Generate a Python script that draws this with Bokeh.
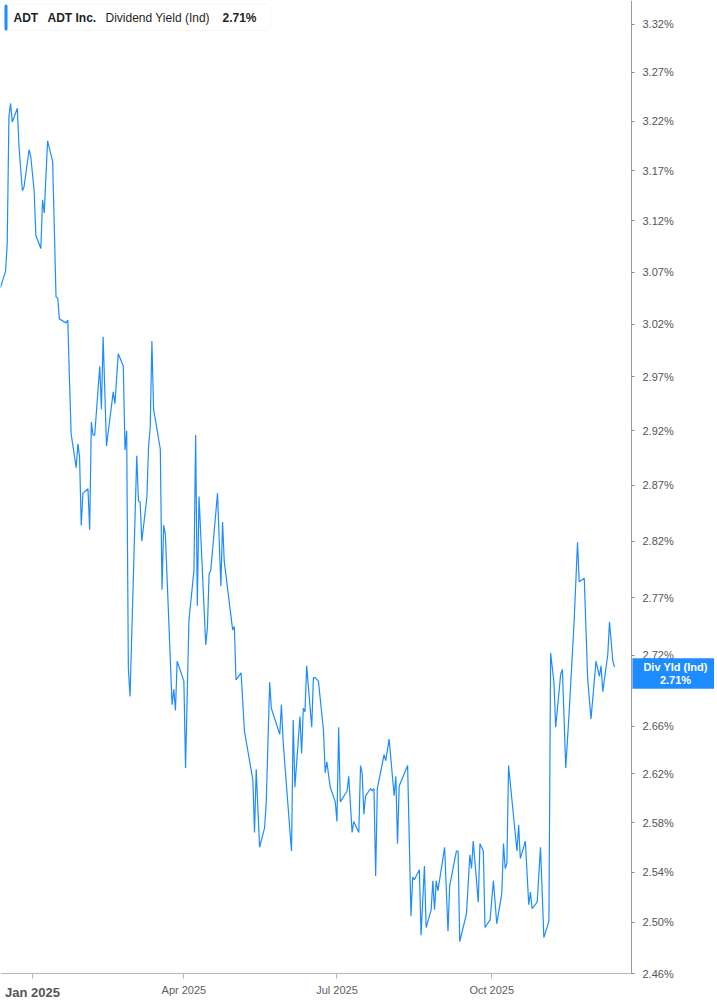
import math
import pandas as pd
from bokeh.plotting import figure
from bokeh.models import (Range1d, FixedTicker, PrintfTickFormatter, DatetimeTickFormatter,
                          Label, BoxAnnotation)
from bokeh.embed import file_html
from bokeh.resources import INLINE

# ---------------- data ----------------
symbol = "ADT"
company = "ADT Inc."
metric = "Dividend Yield (Ind)"
tag_title = "Div Yld (Ind)"
last_value = 2.71

dates = [
    "2024-12-13", "2024-12-16", "2024-12-17", "2024-12-18", "2024-12-19", "2024-12-20",
    "2024-12-23", "2024-12-24", "2024-12-26", "2024-12-27", "2024-12-30", "2024-12-31",
    "2025-01-02", "2025-01-03", "2025-01-06", "2025-01-07", "2025-01-08", "2025-01-10",
    "2025-01-13", "2025-01-15", "2025-01-16", "2025-01-17", "2025-01-21", "2025-01-22",
    "2025-01-23", "2025-01-24", "2025-01-27", "2025-01-28", "2025-01-29", "2025-01-30",
    "2025-01-31",
    "2025-02-03", "2025-02-04", "2025-02-05", "2025-02-06", "2025-02-07", "2025-02-10",
    "2025-02-11", "2025-02-12", "2025-02-14", "2025-02-18", "2025-02-19", "2025-02-21",
    "2025-02-24", "2025-02-25", "2025-02-26", "2025-02-27", "2025-02-28",
    "2025-03-04", "2025-03-05", "2025-03-06", "2025-03-07", "2025-03-10", "2025-03-11",
    "2025-03-12", "2025-03-13", "2025-03-14", "2025-03-18", "2025-03-19", "2025-03-20",
    "2025-03-21", "2025-03-25", "2025-03-26", "2025-03-27", "2025-03-28",
    "2025-04-01", "2025-04-02", "2025-04-04", "2025-04-07", "2025-04-08", "2025-04-09",
    "2025-04-10", "2025-04-14", "2025-04-15", "2025-04-16", "2025-04-17", "2025-04-21",
    "2025-04-23", "2025-04-24", "2025-04-25", "2025-04-30",
    "2025-05-01", "2025-05-02", "2025-05-05", "2025-05-07", "2025-05-12", "2025-05-13",
    "2025-05-14", "2025-05-16", "2025-05-19", "2025-05-20", "2025-05-22", "2025-05-23",
    "2025-05-28", "2025-05-29", "2025-05-30",
    "2025-06-03", "2025-06-04", "2025-06-05", "2025-06-06", "2025-06-09", "2025-06-10",
    "2025-06-11", "2025-06-12", "2025-06-13", "2025-06-16", "2025-06-17", "2025-06-18",
    "2025-06-20", "2025-06-23", "2025-06-24", "2025-06-25", "2025-06-27", "2025-06-30",
    "2025-07-01", "2025-07-02", "2025-07-03", "2025-07-07", "2025-07-08", "2025-07-10",
    "2025-07-11", "2025-07-14", "2025-07-15", "2025-07-16", "2025-07-17", "2025-07-18",
    "2025-07-21", "2025-07-22", "2025-07-23", "2025-07-24", "2025-07-25", "2025-07-29",
    "2025-07-30",
    "2025-08-01", "2025-08-04", "2025-08-05", "2025-08-06", "2025-08-07", "2025-08-12",
    "2025-08-14", "2025-08-15", "2025-08-16", "2025-08-19", "2025-08-20", "2025-08-22",
    "2025-08-23", "2025-08-26", "2025-08-27", "2025-08-28", "2025-08-29", "2025-08-30",
    "2025-09-03", "2025-09-05", "2025-09-06", "2025-09-10", "2025-09-11", "2025-09-12",
    "2025-09-16", "2025-09-18", "2025-09-19", "2025-09-20", "2025-09-23", "2025-09-24",
    "2025-09-26", "2025-09-27", "2025-09-30",
    "2025-10-02", "2025-10-04", "2025-10-07", "2025-10-08", "2025-10-09", "2025-10-10",
    "2025-10-11", "2025-10-16", "2025-10-17", "2025-10-18", "2025-10-21", "2025-10-23",
    "2025-10-24", "2025-10-25", "2025-10-28", "2025-10-30",
    "2025-11-01", "2025-11-04", "2025-11-05", "2025-11-07", "2025-11-08", "2025-11-11",
    "2025-11-12", "2025-11-14", "2025-11-16", "2025-11-19", "2025-11-21", "2025-11-22",
    "2025-11-25", "2025-11-27", "2025-11-29",
    "2025-12-02", "2025-12-04", "2025-12-05", "2025-12-06", "2025-12-09", "2025-12-10",
    "2025-12-12", "2025-12-13",
]

yields = [
    3.055, 3.071, 3.098, 3.224, 3.238, 3.219, 3.233, 3.194, 3.150, 3.154, 3.191, 3.184,
    3.150, 3.106, 3.093, 3.141, 3.128, 3.200, 3.179, 3.046, 3.045, 3.025, 3.021, 3.024,
    2.967, 2.917, 2.886, 2.908, 2.896, 2.834, 2.863,
    2.867, 2.830, 2.928, 2.916, 2.916, 2.980, 2.940, 3.008, 2.906, 2.956, 2.945, 2.992,
    2.980, 2.902, 2.920, 2.709, 2.685,
    2.897, 2.856, 2.855, 2.820, 2.859, 2.905, 2.923, 3.004, 2.940, 2.903, 2.777, 2.834,
    2.826, 2.678, 2.691, 2.673, 2.715,
    2.698, 2.625, 2.750, 2.794, 2.916, 2.763, 2.860, 2.729, 2.744, 2.791, 2.794, 2.863,
    2.780, 2.837, 2.802, 2.742,
    2.745, 2.699, 2.705, 2.656, 2.615, 2.572, 2.624, 2.560, 2.576, 2.598, 2.697, 2.675,
    2.653, 2.678, 2.647,
    2.574, 2.557, 2.665, 2.609, 2.668, 2.637, 2.675, 2.672, 2.711, 2.659, 2.701, 2.701,
    2.698, 2.656, 2.621, 2.630, 2.609, 2.597,
    2.581, 2.659, 2.597, 2.606, 2.618, 2.572, 2.581, 2.572, 2.627, 2.620, 2.587, 2.602,
    2.608, 2.606, 2.608, 2.537, 2.608, 2.636, 2.631,
    2.649, 2.602, 2.618, 2.563, 2.610, 2.627, 2.505, 2.536, 2.534, 2.542, 2.490, 2.545,
    2.496, 2.510, 2.533, 2.510, 2.533, 2.525,
    2.560, 2.493, 2.529, 2.557, 2.557, 2.485, 2.507, 2.554, 2.543, 2.565, 2.516, 2.563,
    2.557, 2.496, 2.502,
    2.533, 2.499, 2.523, 2.563, 2.543, 2.547, 2.627, 2.557, 2.578, 2.551, 2.565, 2.514,
    2.524, 2.511, 2.516, 2.560,
    2.488, 2.501, 2.722, 2.697, 2.659, 2.704, 2.708, 2.625, 2.671, 2.750, 2.819, 2.784,
    2.787, 2.701, 2.666,
    2.715, 2.702, 2.711, 2.689, 2.721, 2.749, 2.715, 2.710,
]

y_ticks = [3.32, 3.27, 3.22, 3.17, 3.12, 3.07, 3.02, 2.97, 2.92, 2.87, 2.82, 2.77,
           2.72, 2.66, 2.62, 2.58, 2.54, 2.50, 2.46]
x_ticks = ["2025-01-01", "2025-04-01", "2025-07-01", "2025-10-01"]
x_tick_labels = ["Jan 2025", "Apr 2025", "Jul 2025", "Oct 2025"]

# ---------------- layout / styling ----------------
BLUE = "#1e8cff"
FONT = "Liberation Sans"
FRAME_W, FRAME_H = 714, 1000          # plotting frame (covers nearly the whole page)
AX_X, AX_Y = 631, 973                 # pixel position of the value axis / date axis
X_START = pd.Timestamp("2024-12-13")
X_AXIS = pd.Timestamp("2025-12-23 02:00")   # date sitting on the value axis
Y_START, Y_TOP = 2.46, 3.345                # value on the date axis / value at top edge


def ms(s):
    return pd.Timestamp(s).value / 1e6


K = AX_Y / math.log(Y_TOP / Y_START)        # pixels per log-unit
Y_LOW = Y_START * math.exp(-(FRAME_H - AX_Y) / K)
X_HIGH = ms(X_START) + (ms(X_AXIS) - ms(X_START)) * FRAME_W / AX_X


def px(t):
    return (ms(t) - ms(X_START)) / (ms(X_AXIS) - ms(X_START)) * AX_X


def py(v):
    return AX_Y - K * math.log(v / Y_START)


def up(page_y):
    """frame-relative screen y (counted from the frame bottom)"""
    return FRAME_H - page_y


x = pd.to_datetime(dates)

p = figure(x_axis_type="datetime", y_axis_type="log", y_axis_location="right",
           frame_width=FRAME_W, frame_height=FRAME_H,
           min_border_left=0, min_border_top=0, min_border_right=0, min_border_bottom=0,
           x_range=Range1d(ms(X_START), X_HIGH), y_range=Range1d(Y_LOW, Y_TOP),
           toolbar_location=None, output_backend="svg")

p.line(x, yields, line_color=BLUE, line_width=1.2)

p.grid.visible = False
p.outline_line_color = None
p.background_fill_color = "white"
p.border_fill_color = "white"

# value axis (drawn at a fixed place inside the frame, labels written next to it)
yax = p.yaxis[0]
yax.fixed_location = ms(X_AXIS)
yax.bounds = (Y_START, Y_TOP)
yax.ticker = FixedTicker(ticks=y_ticks)
yax.formatter = PrintfTickFormatter(format="%.2f%%")
yax.major_label_overrides = {v: "" for v in y_ticks}
yax.major_label_text_font_size = "0px"
yax.major_label_standoff = 0
yax.axis_line_color = "#9a9a9a"
yax.major_tick_out = 3
yax.major_tick_in = 0
yax.major_tick_line_color = "#8a8a8a"
yax.minor_tick_line_color = None

# date axis
xax = p.xaxis[0]
xax.fixed_location = Y_START
xax.bounds = (ms(X_START), ms(X_AXIS))
xax.ticker = FixedTicker(ticks=[ms(t) for t in x_ticks])
fmt = "%b %Y"
xax.formatter = DatetimeTickFormatter(days=fmt, months=fmt, years=fmt)
xax.major_label_overrides = {ms(t): "" for t in x_ticks}
xax.major_label_text_font_size = "0px"
xax.major_label_standoff = 0
xax.axis_line_color = "#b5b5b5"
xax.major_tick_out = 5
xax.major_tick_in = 0
xax.major_tick_line_color = "#b5b5b5"
xax.minor_tick_line_color = None

# tick labels
for v in y_ticks:
    p.add_layout(Label(x=AX_X + 11, y=up(py(v)), x_units="screen", y_units="screen",
                       text=f"{v:.2f}%", text_font=FONT, text_font_size="11px",
                       text_color="#555555", text_align="left", text_baseline="middle"))
for i, (t, lab) in enumerate(zip(x_ticks, x_tick_labels)):
    year_start = i == 0
    p.add_layout(Label(x=px(t), y=up(AX_Y + (19 if year_start else 16.5)),
                       x_units="screen", y_units="screen", text=lab, text_font=FONT,
                       text_font_size="13px" if year_start else "11px",
                       text_font_style="bold" if year_start else "normal",
                       text_color="#555555" if year_start else "#606060",
                       text_align="center", text_baseline="middle"))

# header legend box
p.add_layout(BoxAnnotation(left=4, right=270, top=up(4), bottom=up(30),
                           left_units="screen", right_units="screen",
                           top_units="screen", bottom_units="screen",
                           fill_color="white", fill_alpha=1.0,
                           line_color="#e3e3e3", line_width=1, border_radius=4))
p.add_layout(BoxAnnotation(left=4, right=7, top=up(4), bottom=up(30),
                           left_units="screen", right_units="screen",
                           top_units="screen", bottom_units="screen",
                           fill_color=BLUE, fill_alpha=1.0, line_color=None,
                           border_radius=2))
header = [(symbol, 13, "bold"), (company, 47, "bold"), (metric, 105, "normal"),
          (f"{last_value:.2f}%", 222, "bold")]
for txt, hx, style in header:
    p.add_layout(Label(x=hx, y=up(17), x_units="screen", y_units="screen",
                       text=txt, text_font=FONT, text_font_size="12px",
                       text_font_style=style, text_color="#1f1f1f",
                       text_align="left", text_baseline="middle"))

# last value tag on the value axis
p.add_layout(Label(x=AX_X + 44, y=up(py(last_value) + 6.5), x_units="screen",
                   y_units="screen", text=f"{tag_title}\n{last_value:.2f}%", text_font=FONT,
                   text_font_size="11px", text_font_style="bold", text_color="white",
                   text_align="center", text_baseline="middle", text_line_height=1.05,
                   background_fill_color=BLUE, background_fill_alpha=1.0,
                   padding=(11, 3)))

open("out.html", "w").write(file_html(p, INLINE))
